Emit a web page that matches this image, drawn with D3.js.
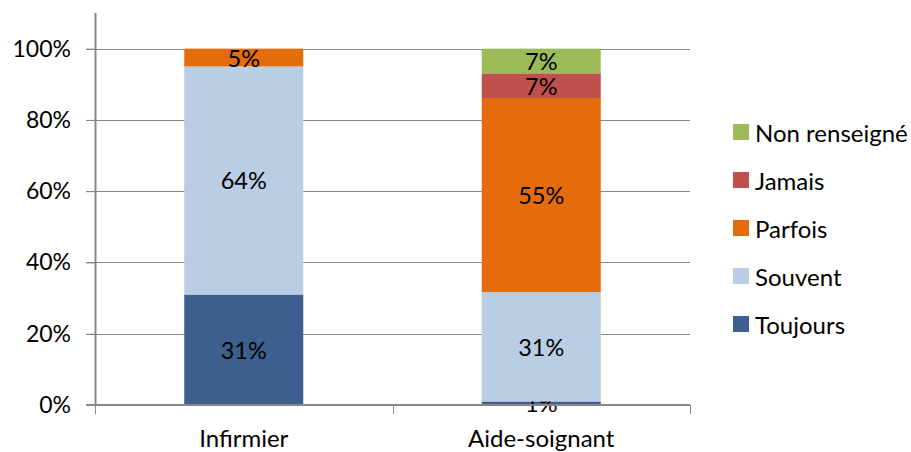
<!DOCTYPE html>
<html>
<head>
<meta charset="utf-8">
<script src="https://cdn.jsdelivr.net/npm/d3@7"></script>
<style>
  html, body { margin: 0; padding: 0; background: #fff; }
  svg { display: block; font-family: Lato, "Open Sans", sans-serif; }
</style>
</head>
<body>
<svg id="chart" width="911" height="452"></svg>
<script>
// Categories (x axis) and response series, bottom to top of each stacked bar
const categories = ["Infirmier", "Aide-soignant"];
const seriesNames = ["Toujours", "Souvent", "Parfois", "Jamais", "Non renseigné"];
const seriesColors = ["#3C5F8D", "#B9CDE5", "#E46C0A", "#C0504D", "#9BBB59"];

// Percentages per series, one value per category
const toujours     = [31, 1];
const souvent      = [64, 31];
const parfois      = [5, 55];
const jamais       = [0, 7];
const nonRenseigne = [0, 7];

const yTicks = [0, 0.2, 0.4, 0.6, 0.8, 1.0];

const seriesValues = [toujours, souvent, parfois, jamais, nonRenseigne];
const rows = categories.map((c, i) => {
  const r = { category: c };
  seriesNames.forEach((s, k) => { r[s] = seriesValues[k][i]; });
  return r;
});

// 100% stacked layout
const stack = d3.stack().keys(seriesNames).offset(d3.stackOffsetExpand);
const layers = stack(rows);

const svg = d3.select("#chart");
const plot = { left: 95, right: 690, top: 13, bottom: 405 };

const x = d3.scaleBand()
  .domain(categories)
  .range([plot.left, plot.right])
  .paddingInner(0.6)
  .paddingOuter(0.3);

const y = d3.scaleLinear().domain([0, 1.1]).range([plot.bottom, plot.top]);

const fontSize = 23.5;
const tickFontSize = 23;
const labelFontSize = 24;
const axisColor = "#878787";

// Horizontal gridlines
svg.append("g")
  .selectAll("line")
  .data(yTicks)
  .join("line")
  .attr("x1", plot.left - 9)
  .attr("x2", plot.right)
  .attr("y1", d => Math.round(y(d)) + 0.5)
  .attr("y2", d => Math.round(y(d)) + 0.5)
  .attr("stroke", axisColor)
  .attr("stroke-width", 1);

// Stacked bars
const layerG = svg.append("g")
  .selectAll("g")
  .data(layers)
  .join("g")
  .attr("fill", (d, i) => seriesColors[i]);

layerG.selectAll("rect")
  .data(d => d.map(p => ({ p, key: d.key })))
  .join("rect")
  .attr("x", d => x(d.p.data.category))
  .attr("width", x.bandwidth())
  .attr("y", d => y(d.p[1]))
  .attr("height", d => Math.max(0, y(d.p[0]) - y(d.p[1])));

// Value labels centred in each segment
layerG.selectAll("text")
  .data(d => d.map(p => ({ p, key: d.key })).filter(d => d.p.data[d.key] > 0))
  .join("text")
  .attr("x", d => x(d.p.data.category) + x.bandwidth() / 2)
  .attr("y", d => y((d.p[0] + d.p[1]) / 2))
  .attr("text-anchor", "middle")
  .attr("dominant-baseline", "central")
  .attr("fill", "#000")
  .attr("font-size", fontSize)
  .text(d => d.p.data[d.key] + "%");

// Y axis
const yAxis = svg.append("g")
  .attr("transform", `translate(${plot.left},0)`)
  .call(d3.axisLeft(y).tickValues(yTicks).tickFormat(d3.format(".0%")).tickSize(9).tickPadding(15));
yAxis.select(".domain").attr("d", `M0.5,${plot.top}V${plot.bottom}`).attr("stroke", axisColor).attr("stroke-width", 2);
yAxis.selectAll(".tick line").attr("stroke", axisColor);
yAxis.selectAll(".tick text")
  .attr("font-size", tickFontSize)
  .attr("font-family", "Lato, sans-serif")
  .attr("fill", "#000");

// X axis with tick marks between categories
const xAxisG = svg.append("g").attr("transform", `translate(0,${plot.bottom})`);
xAxisG.append("line")
  .attr("x1", plot.left - 9).attr("x2", plot.right)
  .attr("y1", 0).attr("y2", 0)
  .attr("stroke", axisColor).attr("stroke-width", 2);
const step = x.step();
const boundaries = d3.range(categories.length + 1).map(i => plot.left + i * step);
xAxisG.selectAll("line.tick")
  .data(boundaries)
  .join("line")
  .attr("class", "tick")
  .attr("x1", d => Math.round(d) + 0.5).attr("x2", d => Math.round(d) + 0.5)
  .attr("y1", 0).attr("y2", 9)
  .attr("stroke", axisColor);
xAxisG.selectAll("text")
  .data(categories)
  .join("text")
  .attr("x", d => x(d) + x.bandwidth() / 2)
  .attr("y", 42)
  .attr("text-anchor", "middle")
  .attr("font-size", labelFontSize)
  .attr("fill", "#000")
  .text(d => d);

// Legend, top series first
const legendItems = seriesNames.map((s, i) => ({ name: s, color: seriesColors[i] })).reverse();
const legend = svg.append("g").attr("transform", "translate(733,124)");
const item = legend.selectAll("g")
  .data(legendItems)
  .join("g")
  .attr("transform", (d, i) => `translate(0,${i * 48})`);
item.append("rect")
  .attr("width", 16).attr("height", 16)
  .attr("fill", d => d.color);
item.append("text")
  .attr("x", 22)
  .attr("y", 8)
  .attr("dominant-baseline", "central")
  .attr("font-size", labelFontSize)
  .attr("fill", "#000")
  .text(d => d.name);
</script>
</body>
</html>
